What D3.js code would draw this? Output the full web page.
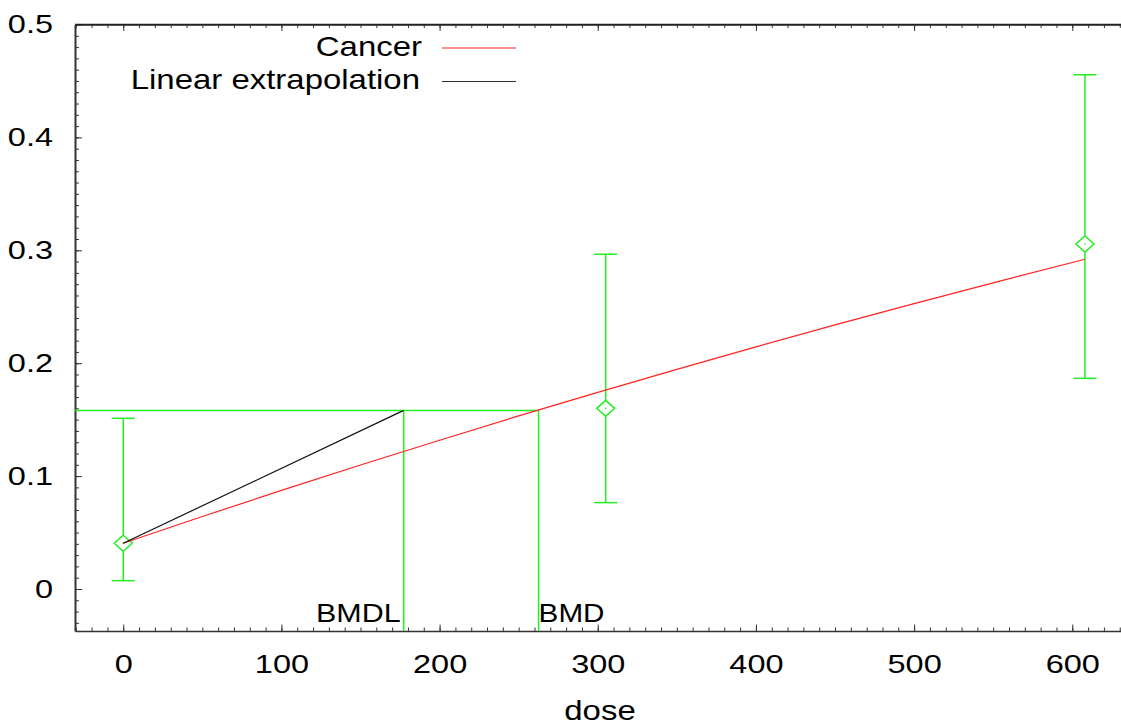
<!DOCTYPE html>
<html>
<head>
<meta charset="utf-8">
<script src="https://cdn.jsdelivr.net/npm/d3@7"></script>
<style>
  body { margin: 0; background: #fff; }
  text { font-family: "Liberation Sans", Arial, sans-serif; fill: #000; }
</style>
</head>
<body>
<script>
// observed dose groups with response and confidence limits
const doses = [0, 305, 608];
const means = [0.0405, 0.160, 0.3056];
const lower = [0.0074, 0.0765, 0.1866];
const upper = [0.1512, 0.2965, 0.4555];

// fitted cancer model
const fitDose = [0, 50, 100, 150, 200, 250, 300, 350, 400, 450, 500, 550, 608];
const fitResp = [0.0405, 0.0642, 0.0873, 0.1098, 0.1318, 0.1533, 0.1742, 0.1945, 0.2145, 0.2339, 0.2528, 0.2712, 0.2921];

const bmr = 0.1582;
const bmdl = 177.3;
const bmd = 262.6;

const xTicks = [0, 100, 200, 300, 400, 500, 600];
const yTicks = [0, 0.1, 0.2, 0.3, 0.4, 0.5];

const width = 1121, height = 725;
const plotL = 75, plotT = 24.5, plotR = 1121, plotB = 631;

const svg = d3.select("body").append("svg")
  .attr("width", width)
  .attr("height", height);

const x = d3.scaleLinear().domain([-30.5, 630.8]).range([plotL, plotR]);
const y = d3.scaleLinear().domain([-0.0372, 0.5]).range([plotB, plotT]);

const green = "#22ee22";

// minor ticks first
svg.append("g")
  .attr("transform", `translate(0,${plotB})`)
  .call(d3.axisBottom(x).tickValues(d3.range(-30, 631, 10)).tickSizeInner(-3.5).tickSizeOuter(0).tickFormat(""))
  .call(g => g.select(".domain").remove());
svg.append("g")
  .attr("transform", `translate(0,${plotT})`)
  .call(d3.axisTop(x).tickValues(d3.range(-30, 631, 10)).tickSizeInner(-3.5).tickSizeOuter(0).tickFormat(""))
  .call(g => g.select(".domain").remove());
svg.append("g")
  .attr("transform", `translate(${plotL},0)`)
  .call(d3.axisLeft(y).tickValues(d3.range(-0.03, 0.5, 0.01)).tickSizeInner(-4).tickSizeOuter(0).tickFormat(""))
  .call(g => g.select(".domain").remove());

// major axes
const xAxis = svg.append("g")
  .attr("transform", `translate(0,${plotB})`)
  .call(d3.axisBottom(x).tickValues(xTicks).tickSizeInner(-6.5).tickSizeOuter(0).tickPadding(24).tickFormat(d3.format("d")));
xAxis.selectAll("text")
  .attr("font-size", 25)
  .attr("transform", "scale(1.3,1)");

svg.append("g")
  .attr("transform", `translate(0,${plotT})`)
  .call(d3.axisTop(x).tickValues(xTicks).tickSizeInner(-6.5).tickSizeOuter(0).tickFormat(""));

const yAxis = svg.append("g")
  .attr("transform", `translate(${plotL},0)`)
  .call(d3.axisLeft(y).tickValues(yTicks).tickSizeInner(-7).tickSizeOuter(0).tickFormat(d => d === 0 ? "0" : d3.format(".1f")(d)));
yAxis.selectAll("text")
  .attr("font-size", 25)
  .attr("x", -22 / 1.3)
  .attr("transform", "scale(1.3,1)");

svg.selectAll(".tick line").attr("stroke", "#333");
svg.selectAll(".domain").attr("stroke", "#333").attr("stroke-width", 1.4);
yAxis.select(".domain").attr("stroke-width", 2);

// top spine
svg.append("line")
  .attr("x1", plotL).attr("x2", plotR)
  .attr("y1", plotT).attr("y2", plotT)
  .attr("stroke", "#222").attr("stroke-width", 1.4);

// BMR / BMD guide lines
svg.append("line")
  .attr("x1", plotL).attr("x2", x(bmd))
  .attr("y1", y(bmr)).attr("y2", y(bmr))
  .attr("stroke", green).attr("stroke-width", 1.5);
[bmdl, bmd].forEach(v => {
  svg.append("line")
    .attr("x1", x(v)).attr("x2", x(v))
    .attr("y1", y(bmr)).attr("y2", plotB)
    .attr("stroke", green).attr("stroke-width", 1.5);
});

// error bars
const pts = doses.map((d, i) => ({ d: d, m: means[i], lo: lower[i], hi: upper[i] }));
const eb = svg.append("g").selectAll("g").data(pts).enter().append("g")
  .attr("stroke", green).attr("stroke-width", 1.5);
eb.append("line")
  .attr("x1", p => x(p.d)).attr("x2", p => x(p.d))
  .attr("y1", p => y(p.lo)).attr("y2", p => y(p.hi));
eb.append("line")
  .attr("x1", p => x(p.d) - 11.5).attr("x2", p => x(p.d) + 11.5)
  .attr("y1", p => y(p.hi)).attr("y2", p => y(p.hi));
eb.append("line")
  .attr("x1", p => x(p.d) - 11.5).attr("x2", p => x(p.d) + 11.5)
  .attr("y1", p => y(p.lo)).attr("y2", p => y(p.lo));
eb.append("path")
  .attr("d", p => {
    const cx = x(p.d), cy = y(p.m);
    return `M${cx},${cy - 8}L${cx + 9},${cy}L${cx},${cy + 8}L${cx - 9},${cy}Z`;
  })
  .attr("fill", "#fff");
eb.append("circle")
  .attr("cx", p => x(p.d)).attr("cy", p => y(p.m))
  .attr("r", 0.8).attr("fill", green).attr("stroke", "none");

// fitted curve
const line = d3.line().x(d => x(d[0])).y(d => y(d[1]));
svg.append("path")
  .datum(fitDose.map((d, i) => [d, fitResp[i]]))
  .attr("d", line)
  .attr("fill", "none")
  .attr("stroke", "#ff2222")
  .attr("stroke-width", 1.2);

// linear extrapolation
svg.append("path")
  .datum([[0, fitResp[0]], [bmdl, bmr]])
  .attr("d", line)
  .attr("fill", "none")
  .attr("stroke", "#111")
  .attr("stroke-width", 1.2);

// stretched text helper
function label(txt, tx, ty, size, sx, anchor) {
  svg.append("text")
    .attr("transform", `translate(${tx},${ty}) scale(${sx},1)`)
    .attr("text-anchor", anchor)
    .attr("font-size", size)
    .text(txt);
}

label("BMDL", x(bmdl) - 3, 622, 26.5, 1.15, "end");
label("BMD", x(bmd), 622, 26.5, 1.12, "start");
label("dose", (plotL + plotR) / 2 + 2, 720, 27, 1.22, "middle");

// legend
label("Cancer", 422, 56, 27, 1.22, "end");
label("Linear extrapolation", 420, 89, 27, 1.22, "end");
svg.append("line")
  .attr("x1", 442).attr("x2", 516).attr("y1", 48).attr("y2", 48)
  .attr("stroke", "#ff2222").attr("stroke-width", 1.2);
svg.append("line")
  .attr("x1", 442).attr("x2", 516).attr("y1", 81.5).attr("y2", 81.5)
  .attr("stroke", "#333").attr("stroke-width", 1.2);
</script>
</body>
</html>
